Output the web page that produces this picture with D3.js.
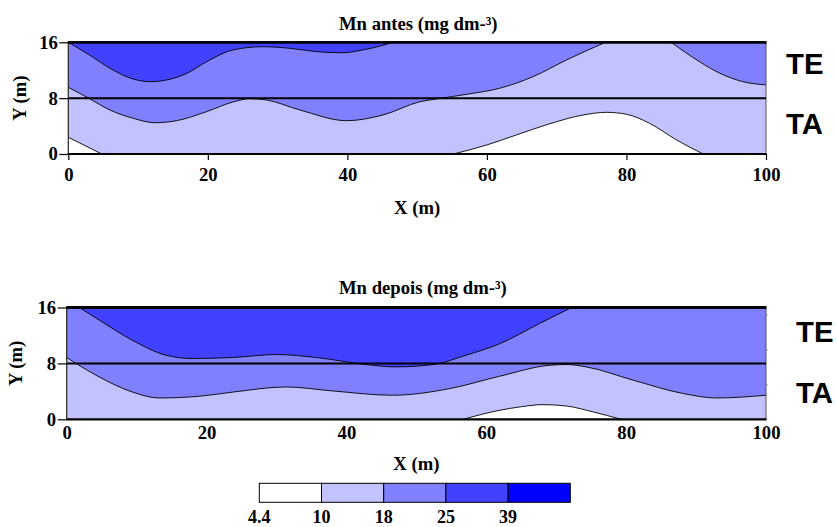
<!DOCTYPE html>
<html>
<head>
<meta charset="utf-8">
<script src="https://cdn.jsdelivr.net/npm/d3@7/dist/d3.min.js"></script>
<style>
  html, body { margin: 0; padding: 0; background: #ffffff; }
  svg { display: block; }
  .serif { font-family: "Liberation Serif", "Times New Roman", serif; font-weight: bold; }
  .sans { font-family: "Liberation Sans", Arial, sans-serif; font-weight: bold; }
</style>
</head>
<body>
<svg id="chart" width="837" height="527"></svg>
<script>
// Concentration classes (mg dm-3) and their fill colours
const classBreaks = [4.4, 10, 18, 25, 39];
const classColors = ["#ffffff", "#c2c2ff", "#8080ff", "#4141ff", "#0000ff"];

// Axis ticks
const xTicks = [0, 20, 40, 60, 80, 100];
const yTicks = [0, 8, 16];
const layerLabels = ["TE", "TA"];

// Mn antes: isolines as [X (m), Y (m)]
const antesIso10a = [[0, 2.4], [4.8, 0]];
const antesIso10b = [[55.2, 0], [60, 1.3], [64.2, 2.72], [68.9, 4.3], [73.8, 5.59], [77.1, 5.97],
  [80, 5.69], [83.3, 4.4], [87.2, 2.0], [91, 0]];
const antesIso18 = [[0, 9.55], [2.9, 8], [5.97, 6.3], [9.35, 5.1], [12.4, 4.48], [15.5, 4.77],
  [19.8, 6.06], [23.6, 7.45], [26, 7.92], [28.4, 7.74], [33.2, 6.3], [39.9, 4.77], [45.1, 5.59],
  [50.4, 7.49], [53, 7.92], [57.1, 8.55], [61.8, 9.41], [66.6, 11.07], [71.4, 13.47], [77, 16],
  [86.4, 16], [90.5, 13.2], [93.4, 11.56], [96.7, 10.36], [100, 9.9]];
const antesIso25 = [[0, 16], [3, 14.2], [5.97, 12.28], [9.3, 10.74], [11.7, 10.36], [14.1, 10.6],
  [17, 11.56], [19.8, 13.2], [23.6, 14.9], [27.9, 15.37], [31.8, 15.14], [35.6, 14.66],
  [39.2, 14.5], [42.7, 15.0], [46.6, 16]];

// Mn depois: isolines as [X (m), Y (m)]
const depoisIso10 = [[56.7, 0], [61.9, 1.29], [65, 1.8], [68.1, 2.1], [71.5, 1.9], [75.3, 1.05], [79.3, 0]];
const depoisIso18 = [[0, 8.84], [4.65, 6.06], [9.4, 3.9], [13.2, 3.05], [19, 3.3], [23.8, 3.9],
  [31.4, 4.63], [38, 4.06], [46.6, 3.44], [54.8, 4.4], [61.9, 6.16], [69.1, 7.74], [71.5, 7.84],
  [74.3, 7.5], [81, 5.6], [88.2, 3.68], [92.9, 3.05], [100, 3.44]];
const depoisIso25 = [[1.8, 16], [4.65, 14.2], [9.4, 11.3], [14.2, 9.17], [18, 8.7], [23.7, 8.84],
  [30, 9.27], [35.7, 8.84], [42.8, 7.84], [47, 7.5], [52.4, 7.84], [57.1, 9.17], [61.9, 10.8],
  [67.6, 13.7], [72.2, 16]];

const xDomain = [0, 100];
const yDomain = [0, 16];
const layerDivide = 8;

const panels = [
  {
    title: "Mn antes (mg dm-³)",
    box: { left: 68.3, right: 766, top: 42.3, bottom: 154 },
    titleY: 30, xLabelY: 214, yLabelX: 26,
    xTickSize: 6, xTickPad: 8,
    layerX: 786, layerY: [74, 134],
    rightTicks: false,
    regions: [
      { pts: antesIso18, cls: 2, close: ["tr", "tl"] },
      { pts: antesIso25, cls: 3, close: [] },
      { pts: antesIso10a, cls: 0, close: ["bl"] },
      { pts: antesIso10b, cls: 0, close: [] }
    ]
  },
  {
    title: "Mn depois (mg dm-³)",
    box: { left: 66.7, right: 766, top: 307.5, bottom: 419.3 },
    titleY: 293.5, xLabelY: 470, yLabelX: 22,
    xTickSize: 0, xTickPad: 6,
    layerX: 796, layerY: [342, 403],
    rightTicks: true,
    regions: [
      { pts: depoisIso18, cls: 2, close: ["tr", "tl"] },
      { pts: depoisIso25, cls: 3, close: [] },
      { pts: depoisIso10, cls: 0, close: [] }
    ]
  }
];

const svg = d3.select("#chart");
const corner = { tl: [xDomain[0], yDomain[1]], tr: [xDomain[1], yDomain[1]],
                 bl: [xDomain[0], yDomain[0]], br: [xDomain[1], yDomain[0]] };

// Break an isoline into pieces wherever it touches the top/bottom frame,
// so the smoothing keeps the sharp corner where the line meets the edge.
function splitRuns(pts) {
  const out = [];
  let cur = [pts[0]];
  for (let i = 1; i < pts.length; i++) {
    cur.push(pts[i]);
    const onEdge = pts[i][1] === yDomain[0] || pts[i][1] === yDomain[1];
    if (onEdge && i < pts.length - 1) { out.push(cur); cur = [pts[i]]; }
  }
  out.push(cur);
  return out;
}

panels.forEach((p, pi) => {
  const b = p.box;
  const x = d3.scaleLinear().domain(xDomain).range([b.left, b.right]);
  const y = d3.scaleLinear().domain(yDomain).range([b.bottom, b.top]);
  const line = d3.line().x(d => x(d[0])).y(d => y(d[1])).curve(d3.curveMonotoneX);
  const g = svg.append("g");

  const clipId = "clip" + pi;
  svg.append("clipPath").attr("id", clipId).append("rect")
    .attr("x", x(xDomain[0])).attr("y", y(yDomain[1]))
    .attr("width", x(xDomain[1]) - x(xDomain[0])).attr("height", y(yDomain[0]) - y(yDomain[1]));

  const fills = g.append("g").attr("clip-path", `url(#${clipId})`);
  // base class fills the whole section
  fills.append("rect")
    .attr("x", x(xDomain[0])).attr("y", y(yDomain[1]))
    .attr("width", x(xDomain[1]) - x(xDomain[0])).attr("height", y(yDomain[0]) - y(yDomain[1]))
    .attr("fill", classColors[1]);

  p.regions.forEach(r => {
    const runs = splitRuns(r.pts);
    let d = runs.map((run, i) => i === 0 ? line(run) : line(run).replace(/^M/, "L")).join("");
    r.close.forEach(c => { d += "L" + x(corner[c][0]) + "," + y(corner[c][1]); });
    d += "Z";
    fills.append("path").attr("d", d).attr("fill", classColors[r.cls]).attr("stroke", "none");
  });

  // isolines
  p.regions.forEach(r => {
    splitRuns(r.pts).forEach(run => {
      fills.append("path").attr("d", line(run))
        .attr("fill", "none").attr("stroke", "#000").attr("stroke-width", 0.9);
    });
  });

  // frame
  g.append("line").attr("x1", x(0)).attr("x2", x(0)).attr("y1", y(16)).attr("y2", y(0))
    .attr("stroke", "#222").attr("stroke-width", 1.2);
  g.append("line").attr("x1", x(100)).attr("x2", x(100)).attr("y1", y(16)).attr("y2", y(0))
    .attr("stroke", "#555").attr("stroke-width", 1);
  g.append("line").attr("x1", x(0) - 0.5).attr("x2", x(100) + 0.5).attr("y1", y(16)).attr("y2", y(16))
    .attr("stroke", "#000").attr("stroke-width", 2.8);
  g.append("line").attr("x1", x(0)).attr("x2", x(100)).attr("y1", y(layerDivide)).attr("y2", y(layerDivide))
    .attr("stroke", "#000").attr("stroke-width", 2);
  g.append("line").attr("x1", x(0) - 0.5).attr("x2", x(100) + 0.5).attr("y1", y(0)).attr("y2", y(0))
    .attr("stroke", "#000").attr("stroke-width", 2.2);

  // axes
  const ax = g.append("g").attr("transform", `translate(0,${b.bottom})`)
    .call(d3.axisBottom(x).tickValues(xTicks).tickSize(p.xTickSize).tickPadding(p.xTickPad).tickFormat(d3.format("d")));
  const ay = g.append("g").attr("transform", `translate(${b.left},0)`)
    .call(d3.axisLeft(y).tickValues(yTicks).tickSize(9).tickPadding(1.5).tickFormat(d3.format("d")));
  [ax, ay].forEach(a => {
    a.select(".domain").remove();
    a.selectAll("line").attr("stroke", "#000").attr("stroke-width", 1.2);
    a.selectAll("text").attr("class", "serif").attr("font-size", 18.67).attr("fill", "#000");
  });
  if (p.rightTicks) {
    const ar = g.append("g").attr("transform", `translate(${b.right},0)`)
      .call(d3.axisRight(y).tickValues([5, 10, 15]).tickSize(2).tickFormat(""));
    ar.select(".domain").remove();
    ar.selectAll("line").attr("stroke", "#999").attr("stroke-width", 1);
  }

  // labels
  svg.append("text").attr("class", "serif").attr("font-size", 18.67)
    .attr("x", 339).attr("y", p.titleY).text(p.title);
  svg.append("text").attr("class", "serif").attr("font-size", 18.67).attr("text-anchor", "middle")
    .attr("x", (b.left + b.right) / 2).attr("y", p.xLabelY).text("X (m)");
  svg.append("text").attr("class", "serif").attr("font-size", 18.67).attr("text-anchor", "middle")
    .attr("transform", `translate(${p.yLabelX},${(b.top + b.bottom) / 2}) rotate(-90)`).text("Y (m)");
  layerLabels.forEach((t, i) => {
    svg.append("text").attr("class", "sans").attr("font-size", 29.3)
      .attr("x", p.layerX).attr("y", p.layerY[i]).text(t);
  });
});

// colour key
const keyX = d3.scaleLinear().domain([0, classColors.length]).range([259.3, 570.3]);
const key = svg.append("g");
classColors.forEach((c, i) => {
  key.append("rect").attr("x", keyX(i)).attr("y", 483.3)
    .attr("width", keyX(i + 1) - keyX(i)).attr("height", 19)
    .attr("fill", c).attr("stroke", "#000").attr("stroke-width", 1);
});
classBreaks.forEach((v, i) => {
  key.append("text").attr("class", "serif").attr("font-size", 18).attr("text-anchor", "middle")
    .attr("x", keyX(i)).attr("y", 522.5).text(v);
});
</script>
</body>
</html>
